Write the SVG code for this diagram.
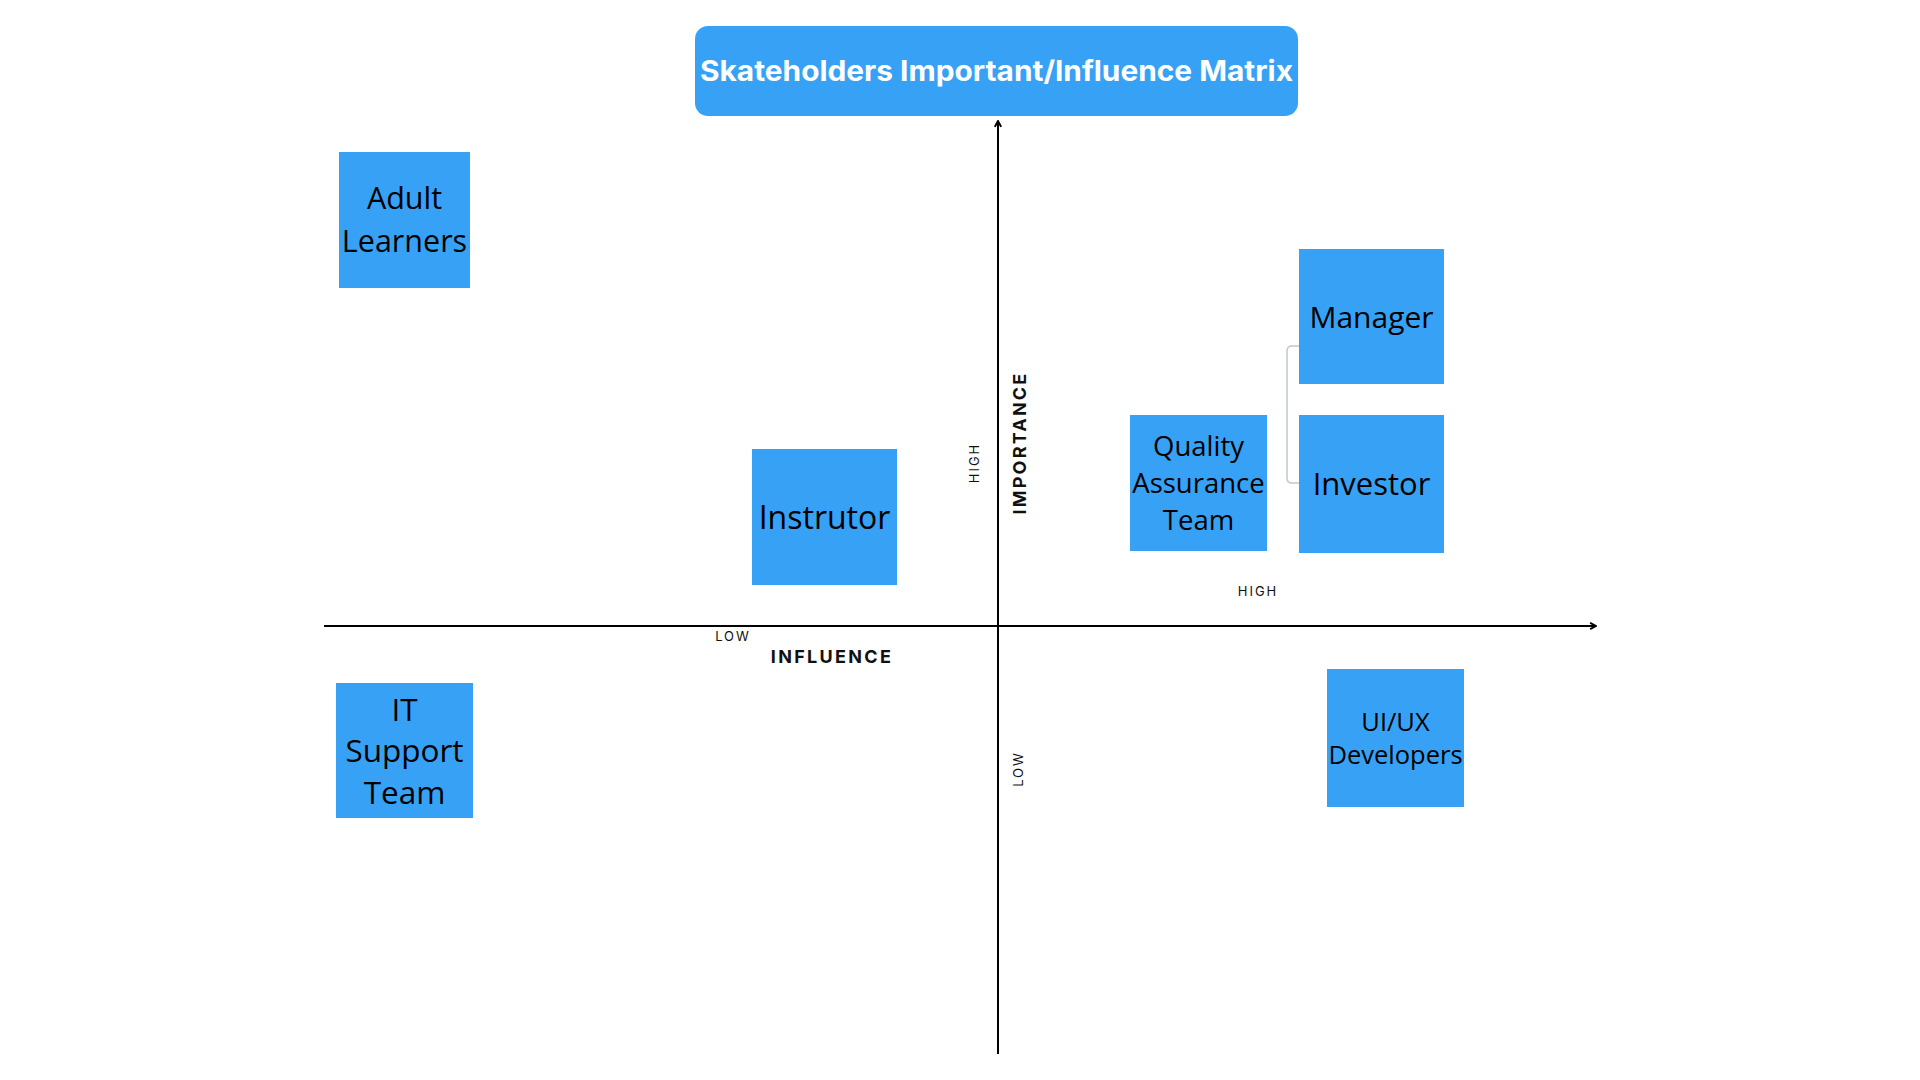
<svg xmlns="http://www.w3.org/2000/svg" width="1920" height="1080" viewBox="0 0 1920 1080">
<style>
.node{fill:#37a2f5}
.lbl{font-family:"Open Sans","Noto Sans",sans-serif;fill:#000;text-anchor:middle}
.axis{stroke:#000;stroke-width:2;fill:none}
.ax{font-family:Inter,"Liberation Sans",sans-serif;fill:#111;text-anchor:middle}
</style>
<defs>
<marker id="arr" viewBox="0 0 10 10" refX="8.5" refY="5" markerWidth="9" markerHeight="9" orient="auto" markerUnits="userSpaceOnUse">
<path d="M2,1.5 L8.5,5 L2,8.5" fill="none" stroke="#000" stroke-width="2.2"/>
</marker>
<marker id="arrg" viewBox="0 0 10 10" refX="8" refY="5" markerWidth="5" markerHeight="5" orient="auto" markerUnits="userSpaceOnUse">
<path d="M1,1 L8,5 L1,9 Z" fill="#b8bdc2"/>
</marker>
</defs>
<rect width="1920" height="1080" fill="#fff"/>

<g id="connectors">
<path class="axis" d="M998,1054 L998,121" marker-end="url(#arr)"/>
<path class="axis" d="M324,626 L1596,626" marker-end="url(#arr)"/>
<path d="M1299,483 L1292,483 Q1287,483 1287,478 L1287,351 Q1287,346 1292,346 L1385,346" fill="none" stroke="#c4c8cc" stroke-width="1.5" marker-end="url(#arrg)"/>
</g>

<g id="title">
<rect x="695" y="26" width="603" height="90" rx="13" class="node"/>
<text x="996.5" y="81" font-family="Inter,'Open Sans',sans-serif" font-weight="700" font-size="28" fill="#fff" text-anchor="middle" textLength="593" lengthAdjust="spacingAndGlyphs">Skateholders Important/Influence Matrix</text>
</g>

<g id="adult-learners">
<rect x="339" y="152" width="131" height="136" class="node"/>
<text class="lbl" font-size="30.5"><tspan x="404.5" y="209">Adult</tspan><tspan x="404.5" y="252">Learners</tspan></text>
</g>

<g id="manager">
<rect x="1299" y="249" width="145" height="135" class="node"/>
<text class="lbl" x="1371.5" y="328" font-size="30">Manager</text>
</g>

<g id="investor">
<rect x="1299" y="415" width="145" height="138" class="node"/>
<text class="lbl" x="1371.5" y="495" font-size="31">Investor</text>
</g>

<g id="quality-assurance-team">
<rect x="1130" y="415" width="137" height="136" class="node"/>
<text class="lbl" font-size="27.5"><tspan x="1198.5" y="456">Quality</tspan><tspan x="1198.5" y="493">Assurance</tspan><tspan x="1198.5" y="530">Team</tspan></text>
</g>

<g id="instrutor">
<rect x="752" y="449" width="145" height="136" class="node"/>
<text class="lbl" x="824.5" y="529" font-size="32">Instrutor</text>
</g>

<g id="it-support-team">
<rect x="336" y="683" width="137" height="135" class="node"/>
<text class="lbl" font-size="31.5"><tspan x="404.5" y="721">IT</tspan><tspan x="404.5" y="762">Support</tspan><tspan x="404.5" y="804">Team</tspan></text>
</g>

<g id="ui-ux-developers">
<rect x="1327" y="669" width="137" height="138" class="node"/>
<text class="lbl" font-size="25.5"><tspan x="1395.5" y="731">UI/UX</tspan><tspan x="1395.5" y="764">Developers</tspan></text>
</g>

<g id="axis-labels">
<text class="ax" x="733" y="641" font-size="13" letter-spacing="2">LOW</text>
<text class="ax" x="832" y="663" font-size="18" font-weight="700" letter-spacing="2.3">INFLUENCE</text>
<text class="ax" x="1258" y="596" font-size="13" letter-spacing="2">HIGH</text>
<text class="ax" transform="translate(979,463) rotate(-90)" font-size="13" letter-spacing="2">HIGH</text>
<text class="ax" transform="translate(1026,443) rotate(-90)" font-size="18" font-weight="700" letter-spacing="2.2">IMPORTANCE</text>
<text class="ax" transform="translate(1023,769) rotate(-90)" font-size="13" letter-spacing="2">LOW</text>
</g>
</svg>
